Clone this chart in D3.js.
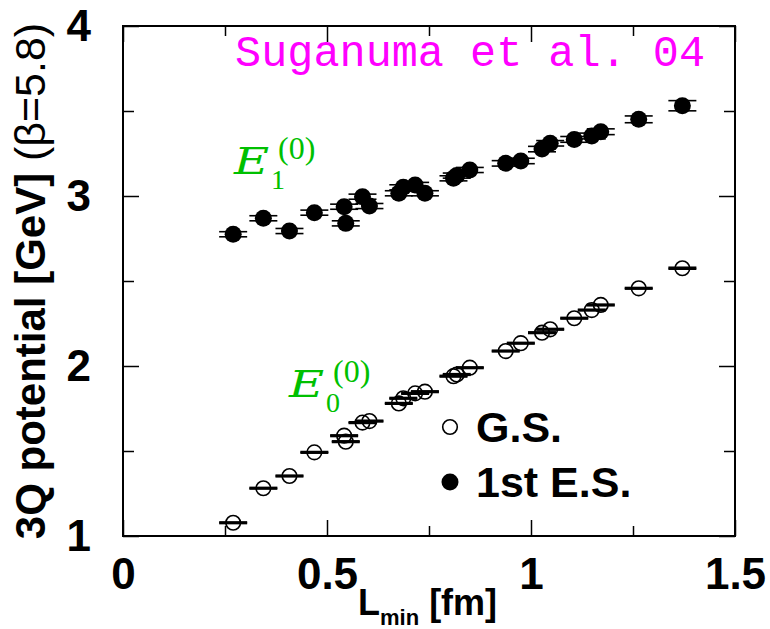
<!DOCTYPE html>
<html lang="en">
<head>
    <meta charset="UTF-8">
    <script src="https://cdn.jsdelivr.net/npm/d3@7"></script>
    <title>3Q potential</title>
    <style>
        body { margin: 0; background: #ffffff; }
        svg { display: block; }
        .tick text { font-family: "Liberation Sans", Arial, sans-serif; font-weight: bold; font-size: 44px; fill: #000; }
        .tick line { stroke: #000; stroke-width: 1.5; }
        .domain { display: none; }
    </style>
</head>
<body>
<svg width="770" height="629"></svg>

<script>
    const WIDTH = 770;
    const HEIGHT = 629;
    const LEFT = 123, RIGHT = 735, TOP = 26, BOTTOM = 536;

    // L_min [fm] of each three-quark configuration
    const lmin = [0.270, 0.344, 0.408, 0.469, 0.542, 0.546, 0.587, 0.604, 0.676, 0.687,
        0.716, 0.740, 0.810, 0.818, 0.850, 0.938, 0.975, 1.027, 1.047, 1.106,
        1.149, 1.171, 1.264, 1.371];
    // ground state potential [GeV]
    const groundState = [1.078, 1.281, 1.353, 1.492, 1.590, 1.555, 1.667, 1.676, 1.780, 1.810,
        1.839, 1.849, 1.940, 1.950, 1.990, 2.088, 2.134, 2.196, 2.216, 2.281,
        2.329, 2.359, 2.457, 2.575];
    const groundErr = [0.003, 0.003, 0.003, 0.003, 0.003, 0.003, 0.003, 0.003, 0.003, 0.003,
        0.003, 0.003, 0.003, 0.003, 0.003, 0.003, 0.003, 0.003, 0.003, 0.003,
        0.003, 0.003, 0.003, 0.004];
    // 1st excited state potential [GeV]
    const excited = [2.775, 2.869, 2.794, 2.902, 2.937, 2.839, 2.996, 2.941, 3.016, 3.051,
        3.065, 3.016, 3.104, 3.120, 3.153, 3.192, 3.206, 3.276, 3.310, 3.333,
        3.353, 3.378, 3.451, 3.531];
    const excitedErr = [0.015, 0.015, 0.015, 0.015, 0.015, 0.015, 0.015, 0.015, 0.015, 0.015,
        0.015, 0.015, 0.015, 0.015, 0.015, 0.016, 0.016, 0.016, 0.016, 0.017,
        0.017, 0.017, 0.02, 0.03];

    const xMajor = [0, 0.5, 1, 1.5];
    const xMinor = [0.25, 0.75, 1.25];
    const yMajor = [1, 2, 3, 4];
    const yMinor = [1.5, 2.5, 3.5];

    const svg = d3.select("svg");

    function init() {
        const x = d3.scaleLinear().domain([0, 1.5]).range([LEFT, RIGHT]);
        const y = d3.scaleLinear().domain([1, 4]).range([BOTTOM, TOP]);

        drawAxes(x, y);
        drawSeries(x, y, groundState, groundErr, false);
        drawSeries(x, y, excited, excitedErr, true);
        drawLabels();
    }

    function drawAxes(x, y) {
        svg.append("rect")
            .attr("x", LEFT).attr("y", TOP)
            .attr("width", RIGHT - LEFT).attr("height", BOTTOM - TOP)
            .attr("fill", "none").attr("stroke", "#000").attr("stroke-width", 2);

        const fmt = d => String(d);

        svg.append("g").attr("transform", `translate(0, ${BOTTOM})`)
            .call(d3.axisBottom(x).tickValues(xMajor).tickSize(-16).tickSizeOuter(0).tickPadding(22).tickFormat(fmt));
        svg.append("g").attr("transform", `translate(0, ${BOTTOM})`)
            .call(d3.axisBottom(x).tickValues(xMinor).tickSize(-10).tickSizeOuter(0).tickFormat(""));
        svg.append("g").attr("transform", `translate(0, ${TOP})`)
            .call(d3.axisTop(x).tickValues(xMajor).tickSize(-16).tickSizeOuter(0).tickFormat(""));
        svg.append("g").attr("transform", `translate(0, ${TOP})`)
            .call(d3.axisTop(x).tickValues(xMinor).tickSize(-10).tickSizeOuter(0).tickFormat(""));

        svg.append("g").attr("transform", `translate(${LEFT}, 0)`)
            .call(d3.axisLeft(y).tickValues(yMajor).tickSize(-16).tickSizeOuter(0).tickPadding(32).tickFormat(fmt));
        svg.append("g").attr("transform", `translate(${LEFT}, 0)`)
            .call(d3.axisLeft(y).tickValues(yMinor).tickSize(-11).tickSizeOuter(0).tickFormat(""));
        svg.append("g").attr("transform", `translate(${RIGHT}, 0)`)
            .call(d3.axisRight(y).tickValues(yMajor).tickSize(-16).tickSizeOuter(0).tickFormat(""));
        svg.append("g").attr("transform", `translate(${RIGHT}, 0)`)
            .call(d3.axisRight(y).tickValues(yMinor).tickSize(-11).tickSizeOuter(0).tickFormat(""));
    }

    function drawSeries(x, y, values, errs, filled) {
        const data = lmin.map((l, i) => ({ l: l, v: values[i], e: errs[i] }));
        const cap = 14;
        const g = svg.append("g").attr("class", filled ? "excited" : "ground");

        const bars = g.selectAll("g.err").data(data).enter().append("g").attr("class", "err")
            .attr("stroke", "#000").attr("stroke-width", filled ? 1.6 : 2.2);
        bars.append("line")
            .attr("x1", d => x(d.l) - cap).attr("x2", d => x(d.l) + cap)
            .attr("y1", d => y(d.v + d.e)).attr("y2", d => y(d.v + d.e));
        bars.append("line")
            .attr("x1", d => x(d.l) - cap).attr("x2", d => x(d.l) + cap)
            .attr("y1", d => y(d.v - d.e)).attr("y2", d => y(d.v - d.e));
        bars.append("line")
            .attr("x1", d => x(d.l)).attr("x2", d => x(d.l))
            .attr("y1", d => y(d.v + d.e)).attr("y2", d => y(d.v - d.e));

        g.selectAll("circle").data(data).enter().append("circle")
            .attr("cx", d => x(d.l))
            .attr("cy", d => y(d.v))
            .attr("r", filled ? 8.5 : 7.3)
            .attr("fill", filled ? "#000" : "none")
            .attr("stroke", "#000")
            .attr("stroke-width", filled ? 0 : 1.6);
    }

    function drawLabels() {
        // title
        svg.append("text")
            .attr("x", 705).attr("y", 66)
            .attr("text-anchor", "end")
            .attr("font-family", "'Liberation Mono', 'DejaVu Sans Mono', monospace")
            .attr("font-size", 43.5)
            .attr("fill", "#ff00ff")
            .text("Suganuma et al. 04");

        // y axis title
        const yt = svg.append("text")
            .attr("transform", "translate(45, 281) rotate(-90)")
            .attr("text-anchor", "middle")
            .attr("font-family", "'Liberation Sans', Arial, sans-serif")
            .attr("fill", "#000");
        yt.append("tspan").attr("font-weight", "bold").attr("font-size", 42).text("3Q potential [GeV] ");
        yt.append("tspan").attr("font-size", 43).text("(β=5.8)");

        // x axis title
        const xt = svg.append("text")
            .attr("x", 358).attr("y", 615)
            .attr("font-family", "'Liberation Sans', Arial, sans-serif")
            .attr("font-weight", "bold")
            .attr("font-size", 36)
            .attr("fill", "#000");
        xt.append("tspan").text("L");
        xt.append("tspan").attr("font-size", 22).attr("dy", 10).text("min");
        xt.append("tspan").attr("dy", -10).text(" [fm]");

        // state labels
        drawStateLabel(234, 174, "1");
        drawStateLabel(289, 397, "0");

        // legend
        const legend = [
            { label: "G.S.", filled: false, y: 427 },
            { label: "1st E.S.", filled: true, y: 482 }
        ];
        const lg = svg.append("g").selectAll("g").data(legend).enter().append("g");
        lg.append("circle")
            .attr("cx", 450).attr("cy", d => d.y)
            .attr("r", d => d.filled ? 8.5 : 7.3)
            .attr("fill", d => d.filled ? "#000" : "none")
            .attr("stroke", "#000").attr("stroke-width", d => d.filled ? 0 : 1.6);
        lg.append("text")
            .attr("x", 476).attr("y", d => d.y + 15)
            .attr("font-family", "'Liberation Sans', Arial, sans-serif")
            .attr("font-weight", "bold").attr("font-size", 43)
            .text(d => d.label);
    }

    function drawStateLabel(x0, base, sub) {
        const g = svg.append("g")
            .attr("fill", "#00c000")
            .attr("font-family", "'Liberation Serif', 'DejaVu Serif', serif");
        // the italic E is stretched a little to match the wide math italic glyph
        g.append("text")
            .attr("transform", `translate(${x0}, ${base}) scale(1.3, 1)`)
            .attr("font-family", "'DejaVu Serif', serif")
            .attr("font-style", "italic").attr("font-size", 37).text("E");
        g.append("text").attr("x", x0 + 37).attr("y", base + 15)
            .attr("font-size", 28).text(sub);
        g.append("text").attr("x", x0 + 44).attr("y", base - 15)
            .attr("font-size", 32).text("(0)");
    }

    init();
</script>
</body>
</html>
